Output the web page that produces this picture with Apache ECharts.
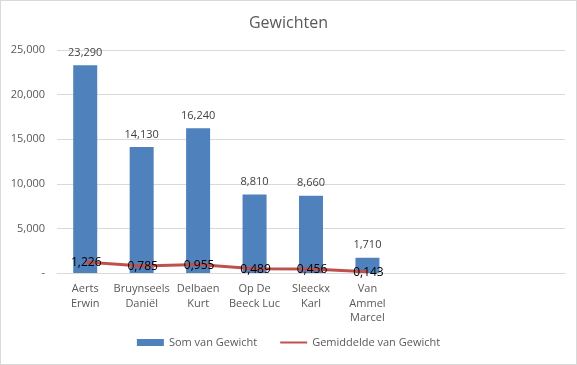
<!DOCTYPE html>
<html><head><meta charset="utf-8">
<script src="https://cdn.jsdelivr.net/npm/echarts@6/dist/echarts.min.js"></script>
<style>
html,body{margin:0;padding:0;background:#fff;}
#c{width:575px;height:363px;border:1px solid #d9d9d9;}
</style></head>
<body><div id="c"></div>
<script>
const categories = ['Aerts\nErwin','Bruynseels\nDaniël','Delbaen\nKurt','Op De\nBeeck Luc','Sleeckx\nKarl','Van\nAmmel\nMarcel','','',''];
const somVanGewicht = [23290, 14130, 16240, 8810, 8660, 1710, null, null, null];
const gemiddeldeVanGewicht = [1226, 785, 955, 489, 456, 143, null, null, null];
const yTicks = {min: 0, max: 25000, interval: 5000};

function fmt(v){
  if (v === 0) return '-';
  const th = Math.floor(v/1000), r = Math.round(v%1000);
  return th + ',' + String(r).padStart(3,'0');
}
const FONT = '"Open Sans", "Noto Sans", sans-serif';
const chart = echarts.init(document.getElementById('c'));
chart.setOption({
  animation: false,
  textStyle: {fontFamily: FONT},
  title: {text: 'Gewichten', left: 'center', top: 9,
    textStyle: {fontFamily: FONT, fontSize: 16, fontWeight: 'normal', color: '#595959'}},
  grid: {left: 56, right: 11, top: 49, bottom: 91},
  legend: {bottom: 11, left: 'center', itemGap: 22, itemWidth: 27, itemHeight: 7,
    textStyle: {fontFamily: FONT, fontSize: 11, color: '#595959'},
    data: [{name: 'Som van Gewicht', icon: 'rect'},
           {name: 'Gemiddelde van Gewicht', itemStyle: {opacity: 0}}]},
  xAxis: {type: 'category', data: categories,
    axisLine: {lineStyle: {color: '#d9d9d9'}}, axisTick: {show: false},
    axisLabel: {interval: 0, color: '#595959', fontSize: 11, lineHeight: 14.5, margin: 9, fontFamily: FONT}},
  yAxis: {type: 'value', min: yTicks.min, max: yTicks.max, interval: yTicks.interval,
    axisLine: {show: false}, axisTick: {show: false},
    splitLine: {lineStyle: {color: '#d9d9d9'}},
    axisLabel: {formatter: fmt, color: '#595959', fontSize: 11, margin: 12, fontFamily: FONT}},
  series: [
    {name: 'Som van Gewicht', type: 'bar', data: somVanGewicht, barWidth: 24,
      itemStyle: {color: '#4f81bd'},
      label: {show: true, position: 'top', distance: 7, color: '#404040', fontSize: 11, fontFamily: FONT,
        formatter: p => fmt(p.value)}},
    {name: 'Gemiddelde van Gewicht', type: 'line', data: gemiddeldeVanGewicht,
      lineStyle: {color: '#c0504d', width: 3}, itemStyle: {color: '#c0504d'},
      symbol: 'circle', symbolSize: 1, showSymbol: true,
      label: {show: true, position: 'inside', offset: [1, 1], color: '#000', fontSize: 12, fontFamily: FONT,
        formatter: p => fmt(p.value)}}
  ]
});
</script></body></html>
